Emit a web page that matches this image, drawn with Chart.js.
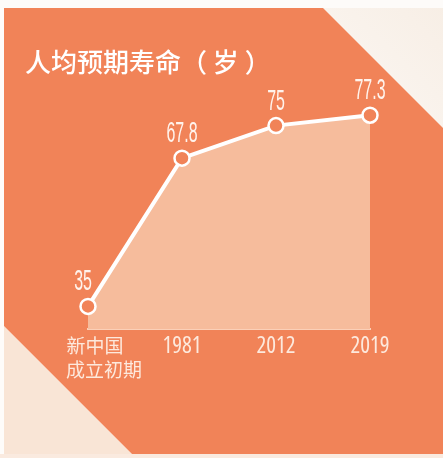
<!DOCTYPE html>
<html><head><meta charset="utf-8">
<style>html,body{margin:0;padding:0;background:#fdf9f5;}canvas{display:block;}</style>
<script src="https://cdn.jsdelivr.net/npm/chart.js@4/dist/chart.umd.min.js"></script>
</head><body>
<canvas id="c" width="443" height="458"></canvas>
<script>
const categories = [['新中国', '成立初期'], '1981', '2012', '2019'];
const lifeExpectancy = [35, 67.8, 75, 77.3];
const yMin = 30, yMax = 80;
const titleText = '人均预期寿命（ 岁 ）';

const ORANGE = '#f18358';
const AREA = '#f6bc9c';

const background = {
  id: 'background',
  beforeDraw(chart) {
    const ctx = chart.ctx, W = chart.width, H = chart.height;
    ctx.save();
    const g = ctx.createLinearGradient(W, 0, W * 0.6, H * 0.4);
    g.addColorStop(0, '#f7eee5');
    g.addColorStop(1, '#fefcfa');
    ctx.fillStyle = g;
    ctx.fillRect(0, 0, W, H);
    ctx.fillStyle = '#fdfbf9';
    ctx.fillRect(0, 0, W, 8);
    ctx.fillStyle = '#f9e5d6';
    ctx.beginPath();
    ctx.moveTo(4, 326); ctx.lineTo(136, 458); ctx.lineTo(4, 458); ctx.closePath();
    ctx.fill();
    ctx.fillStyle = '#faeadf';
    ctx.fillRect(0, 454, W, 4);
    ctx.fillStyle = ORANGE;
    ctx.beginPath();
    ctx.moveTo(4, 8); ctx.lineTo(323, 8); ctx.lineTo(443, 128);
    ctx.lineTo(443, 454); ctx.lineTo(132, 454); ctx.lineTo(4, 326);
    ctx.closePath();
    ctx.fill();
    ctx.restore();
  }
};

const valueLabels = {
  id: 'valueLabels',
  afterDatasetsDraw(chart) {
    const ctx = chart.ctx;
    const meta = chart.getDatasetMeta(0);
    const data = chart.data.datasets[0].data;
    ctx.save();
    ctx.fillStyle = '#fff3ec';
    ctx.font = '29px "Liberation Sans"';
    ctx.textAlign = 'center';
    ctx.textBaseline = 'alphabetic';
    meta.data.forEach((pt, i) => {
      ctx.save();
      ctx.translate(pt.x - (i === 0 ? 5 : 0), pt.y - 16);
      ctx.scale(0.55, 1);
      ctx.fillText(String(data[i]), 0, 0);
      ctx.restore();
    });
    ctx.restore();
  }
};

new Chart(document.getElementById('c'), {
  type: 'line',
  data: {
    labels: categories,
    datasets: [{
      data: lifeExpectancy,
      borderColor: '#ffffff',
      borderWidth: 4,
      fill: 'start',
      backgroundColor: AREA,
      tension: 0,
      pointRadius: 7.5,
      pointHoverRadius: 7.5,
      pointBorderWidth: 2.5,
      pointBackgroundColor: ORANGE,
      pointBorderColor: '#ffffff',
      clip: false
    }]
  },
  options: {
    responsive: false,
    animation: false,
    events: [],
    layout: { padding: { left: 25, right: 73, top: 0, bottom: 0 } },
    plugins: {
      legend: { display: false },
      tooltip: { enabled: false },
      title: {
        display: true,
        text: titleText,
        align: 'start',
        color: '#ffffff',
        font: { family: '"Noto Sans CJK SC"', size: 26, weight: '500', lineHeight: '30px' },
        padding: { top: 47, bottom: 26 }
      }
    },
    scales: {
      x: {
        type: 'category',
        offset: false,
        grid: { display: false, drawTicks: false },
        border: { display: true, color: '#fbd0b8', width: 2 },
        ticks: {
          autoSkip: false,
          maxRotation: 0,
          padding: 5,
          color: '#fde9dd',
          callback: function(value, index) {
            const lab = this.getLabelForValue(value);
            if (Array.isArray(lab)) {
              return ['\u2002 ' + lab[0], '\u3000   ' + lab[1]];
            }
            return lab;
          },
          font: (ctx) => ctx.index === 0
            ? { family: '"Noto Sans CJK SC"', size: 19, lineHeight: '24px' }
            : { family: '"Open Sans", "Liberation Sans"', size: 23, weight: 'normal condensed', lineHeight: '24px' }
        },
        afterFit: (s) => { s.height = 129; s.paddingLeft = 0; s.paddingRight = 0; }
      },
      y: {
        min: yMin,
        max: yMax,
        display: true,
        grid: { display: false, drawTicks: false },
        border: { display: false },
        ticks: { display: false },
        afterFit: (s) => { s.width = 63; }
      }
    }
  },
  plugins: [background, valueLabels]
});
</script>
</body></html>
